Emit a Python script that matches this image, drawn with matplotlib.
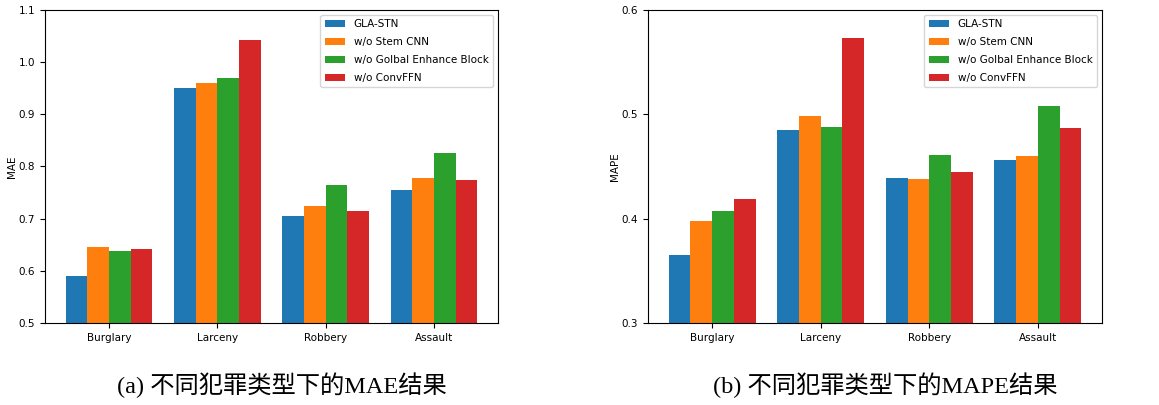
import matplotlib.pyplot as plt
import numpy as np

# Data
crimes = ['Burglary', 'Larceny', 'Robbery', 'Assault']
models = ['GLA-STN', 'w/o Stem CNN', 'w/o Golbal Enhance Block', 'w/o ConvFFN']

mae_gla = [0.591, 0.950, 0.706, 0.755]
mae_stem = [0.645, 0.960, 0.724, 0.777]
mae_gel = [0.638, 0.970, 0.764, 0.825]
mae_ffn = [0.642, 1.043, 0.714, 0.775]

mape_gla = [0.365, 0.485, 0.439, 0.456]
mape_stem = [0.398, 0.498, 0.438, 0.460]
mape_gel = [0.407, 0.488, 0.461, 0.508]
mape_ffn = [0.419, 0.573, 0.445, 0.487]

colors = ['#1f77b4', '#ff7f0e', '#2ca02c', '#d62728']


def draw_panel(ax, series, ylabel, ylim, yticks):
    x = np.arange(len(crimes))
    width = 0.2
    for i, (vals, name) in enumerate(zip(series, models)):
        ax.bar(x + (i - 1.5) * width, vals, width, color=colors[i], label=name)
    ax.set_xticks(x)
    ax.set_xticklabels(crimes, fontsize=7.5)
    ax.set_ylim(*ylim)
    ax.set_yticks(yticks)
    ax.tick_params(axis='y', labelsize=7.5)
    ax.set_ylabel(ylabel, fontsize=7.5, labelpad=1)
    ax.legend(loc='upper right', fontsize=7.5, labelspacing=0.75)


fig = plt.figure(figsize=(11.59, 4.05), dpi=100)
ax1 = fig.add_axes([0.0388, 0.2025, 0.3909, 0.7728])
ax2 = fig.add_axes([0.5591, 0.2025, 0.3917, 0.7728])

draw_panel(ax1, [mae_gla, mae_stem, mae_gel, mae_ffn], 'MAE',
           (0.5, 1.1), np.arange(0.5, 1.11, 0.1))
draw_panel(ax2, [mape_gla, mape_stem, mape_gel, mape_ffn], 'MAPE',
           (0.3, 0.6), np.arange(0.3, 0.61, 0.1))

cap_font = ['Liberation Serif', 'Noto Sans CJK SC']
fig.text(0.243, 0.05, '(a) 不同犯罪类型下的MAE结果', ha='center', va='center',
         fontsize=17.5, family=cap_font)
fig.text(0.764, 0.05, '(b) 不同犯罪类型下的MAPE结果', ha='center', va='center',
         fontsize=17.5, family=cap_font)

fig.savefig('out.png', dpi=100, facecolor='white')
